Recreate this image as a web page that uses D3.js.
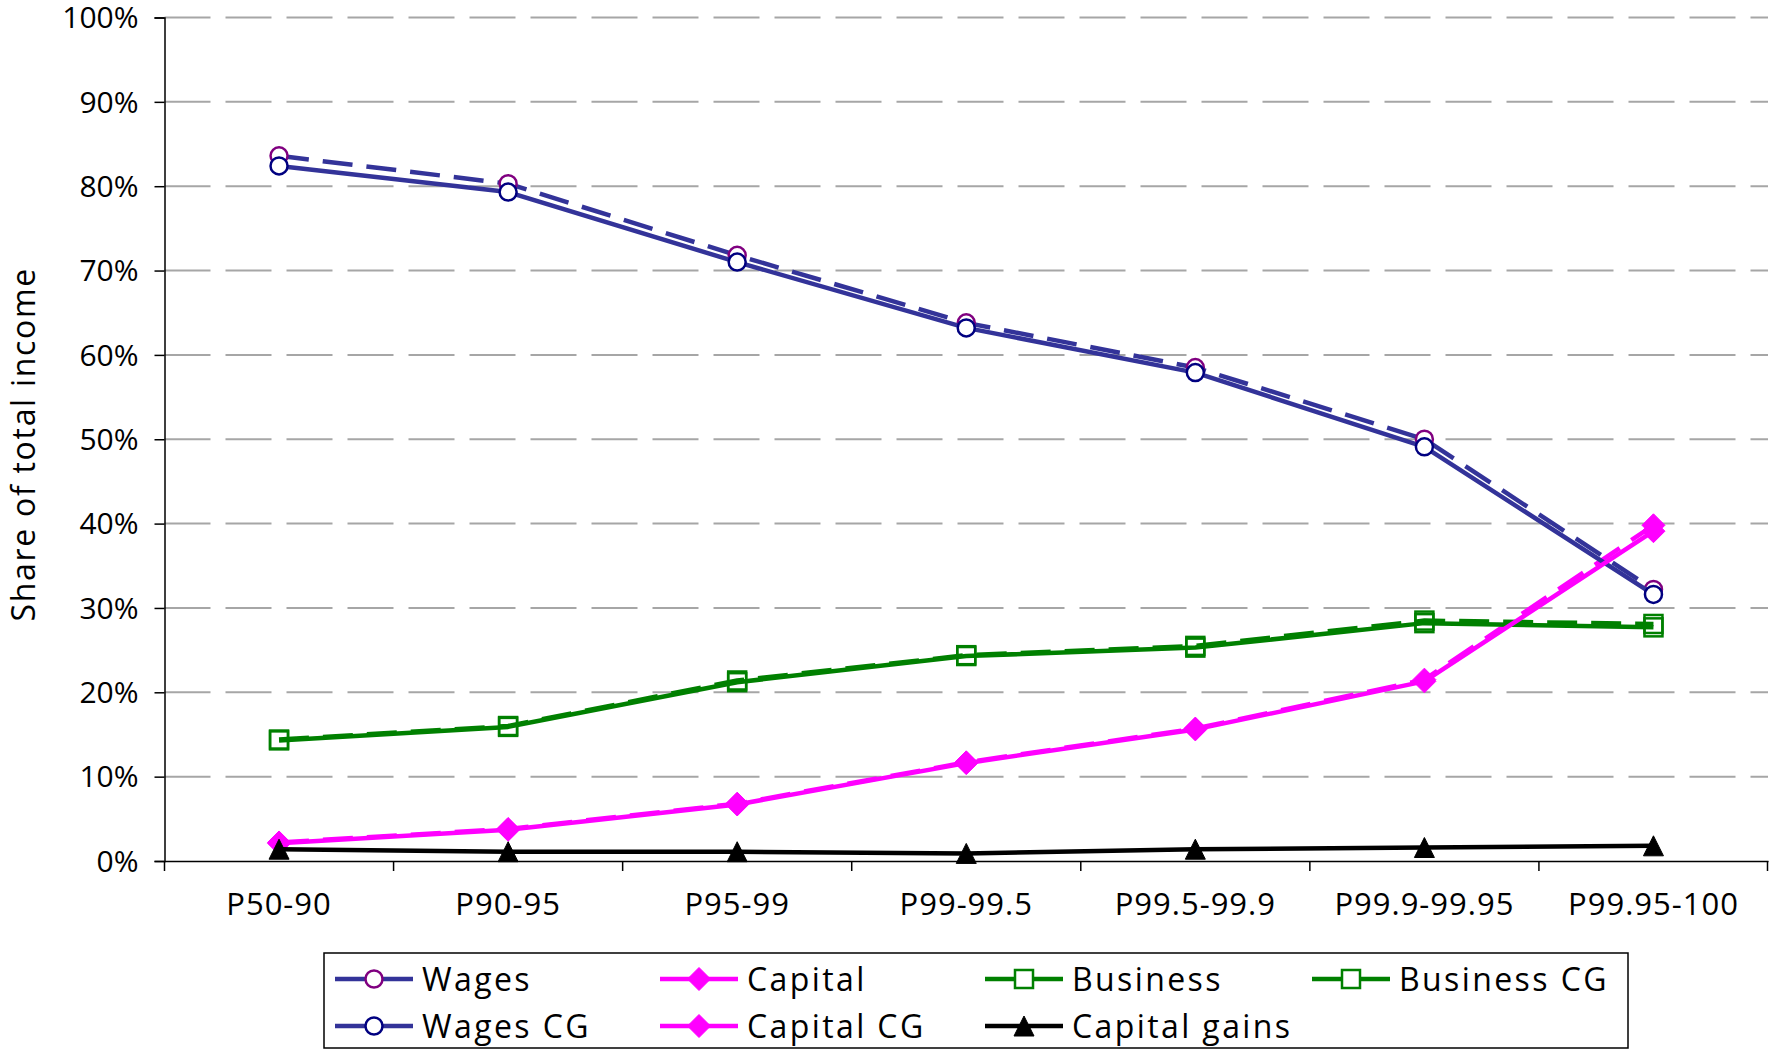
<!DOCTYPE html>
<html>
<head>
<meta charset="utf-8">
<script src="https://cdn.jsdelivr.net/npm/d3@7"></script>
<style>
html,body{margin:0;padding:0;background:#fff;}
svg{display:block;}
text{font-family:"Open Sans",sans-serif;fill:#000;}
</style>
</head>
<body>
<svg id="chart" width="1769" height="1050"></svg>
<script>
const categories = ["P50-90","P90-95","P95-99","P99-99.5","P99.5-99.9","P99.9-99.95","P99.95-100"];
const wages        = [83.6, 80.3, 71.8, 63.8, 58.5, 50.0, 32.2];
const capital      = [2.2, 3.8, 6.8, 11.7, 15.7, 21.5, 39.8];
const business     = [14.4, 16.0, 21.4, 24.4, 25.5, 28.5, 28.1];
const businessCG   = [14.3, 15.9, 21.2, 24.3, 25.3, 28.2, 27.7];
const wagesCG      = [82.4, 79.3, 71.0, 63.2, 57.9, 49.1, 31.6];
const capitalCG    = [2.1, 3.7, 6.7, 11.6, 15.6, 21.3, 39.1];
const capitalGains = [1.4, 1.1, 1.1, 0.9, 1.4, 1.6, 1.8];
const yTicks = [0,10,20,30,40,50,60,70,80,90,100];
const yTitle = "Share of total income";

const series = [
  {name:"Wages", values:wages, color:"#333399", dash:"30,14", marker:"circle", mstroke:"#800080", mfill:"#fff"},
  {name:"Capital", values:capital, color:"#FF00FF", dash:"30,14", marker:"diamond", mstroke:"#FF00FF", mfill:"#FF00FF"},
  {name:"Business", values:business, color:"#008000", dash:"30,14", marker:"square", mstroke:"#008000", mfill:"none"},
  {name:"Business CG", values:businessCG, color:"#008000", dash:null, marker:"square", mstroke:"#008000", mfill:"none"},
  {name:"Wages CG", values:wagesCG, color:"#333399", dash:null, marker:"circle", mstroke:"#000080", mfill:"#fff"},
  {name:"Capital CG", values:capitalCG, color:"#FF00FF", dash:null, marker:"diamond", mstroke:"#FF00FF", mfill:"#FF00FF"},
  {name:"Capital gains", values:capitalGains, color:"#000000", dash:null, marker:"triangle", mstroke:"#000", mfill:"#000"}
];

const svg = d3.select("#chart");
const L = 164.5, R = 1768, T = 17.5, B = 861;

const x = d3.scaleBand().domain(categories).range([L, R]).paddingInner(0).paddingOuter(0);
const y = d3.scaleLinear().domain([0,100]).range([B, T]);
const cx = c => x(c) + x.bandwidth()/2;

// gridlines
svg.append("g").selectAll("line").data(yTicks.filter(t=>t>0)).join("line")
  .attr("x1", L).attr("x2", R).attr("y1", d=>y(d)).attr("y2", d=>y(d))
  .attr("stroke","#a6a6a6").attr("stroke-width",2).attr("stroke-dasharray","46,15");

// y axis
const yAxis = svg.append("g").attr("transform",`translate(${L},0)`)
  .call(d3.axisLeft(y).tickValues(yTicks).tickFormat(d=>d+"%").tickSize(10).tickPadding(16));
yAxis.select(".domain").attr("stroke","#000").attr("stroke-width",1.5);
yAxis.selectAll(".tick line").attr("stroke","#000").attr("stroke-width",1.5);
yAxis.selectAll("text").attr("font-size",30).attr("font-family","Open Sans").attr("dy","0.34em");

// x axis
const xAxis = svg.append("g").attr("transform",`translate(0,${B})`)
  .call(d3.axisBottom(x).tickSize(0).tickPadding(32));
xAxis.select(".domain").attr("stroke","#000").attr("stroke-width",1.5);
xAxis.selectAll("text").attr("font-size",31).attr("font-family","Open Sans").attr("letter-spacing","1px");
// boundary ticks
const bounds = categories.map(c=>x(c)).concat([R-0.5]);
svg.append("g").selectAll("line").data(bounds).join("line")
  .attr("x1",d=>d).attr("x2",d=>d).attr("y1",B).attr("y2",B+10)
  .attr("stroke","#000").attr("stroke-width",1.5);

// y title
svg.append("text").attr("transform",`translate(35,${(T+B)/2+5}) rotate(-90)`)
  .attr("text-anchor","middle").attr("font-size",32).attr("letter-spacing","1.7px").text(yTitle);

function drawMarker(g, type, px, py){
  if(type==="circle"){
    return g.append("circle").attr("cx",px).attr("cy",py).attr("r",8.5);
  } else if(type==="diamond"){
    const h=11.5;
    return g.append("path").attr("d",`M${px},${py-h}L${px+h},${py}L${px},${py+h}L${px-h},${py}Z`);
  } else if(type==="square"){
    const h=9;
    return g.append("rect").attr("x",px-h).attr("y",py-h).attr("width",2*h).attr("height",2*h);
  }
  const h=10;
  return g.append("path").attr("d",`M${px},${py-h}L${px+h},${py+h}L${px-h},${py+h}Z`);
}

const line = d3.line().x((d,i)=>cx(categories[i])).y(d=>y(d));

series.forEach(s=>{
  const g = svg.append("g");
  g.append("path").attr("d", line(s.values)).attr("fill","none")
    .attr("stroke", s.color).attr("stroke-width",4.5)
    .attr("stroke-dasharray", s.dash).attr("stroke-linejoin","round");
  s.values.forEach((v,i)=>{
    drawMarker(g, s.marker, cx(categories[i]), y(v))
      .attr("fill", s.mfill).attr("stroke", s.mstroke).attr("stroke-width", s.marker==="circle"?2.5:(s.marker==="square"?2.5:1));
  });
});

// legend
const lg = svg.append("g");
lg.append("rect").attr("x",324).attr("y",953).attr("width",1304).attr("height",95)
  .attr("fill","#fff").attr("stroke","#000").attr("stroke-width",1.5);
const colX = [335, 660, 985, 1312];
const rowY = [979, 1026];
series.forEach((s,i)=>{
  const col = i<4 ? i : i-4;
  const row = i<4 ? 0 : 1;
  const lx = colX[col], ly = rowY[row];
  const eg = lg.append("g");
  eg.append("line").attr("x1",lx).attr("x2",lx+78).attr("y1",ly).attr("y2",ly)
    .attr("stroke",s.color).attr("stroke-width",4.5);
  drawMarker(eg, s.marker, lx+39, ly)
    .attr("fill", s.mfill==="none"?"#fff":s.mfill).attr("stroke", s.mstroke)
    .attr("stroke-width", s.marker==="circle"?2.5:(s.marker==="square"?2.5:1));
  eg.append("text").attr("x",lx+87).attr("y",ly).attr("dy","0.36em")
    .attr("font-size",32).attr("letter-spacing","2.4px").text(s.name);
});
</script>
</body>
</html>
